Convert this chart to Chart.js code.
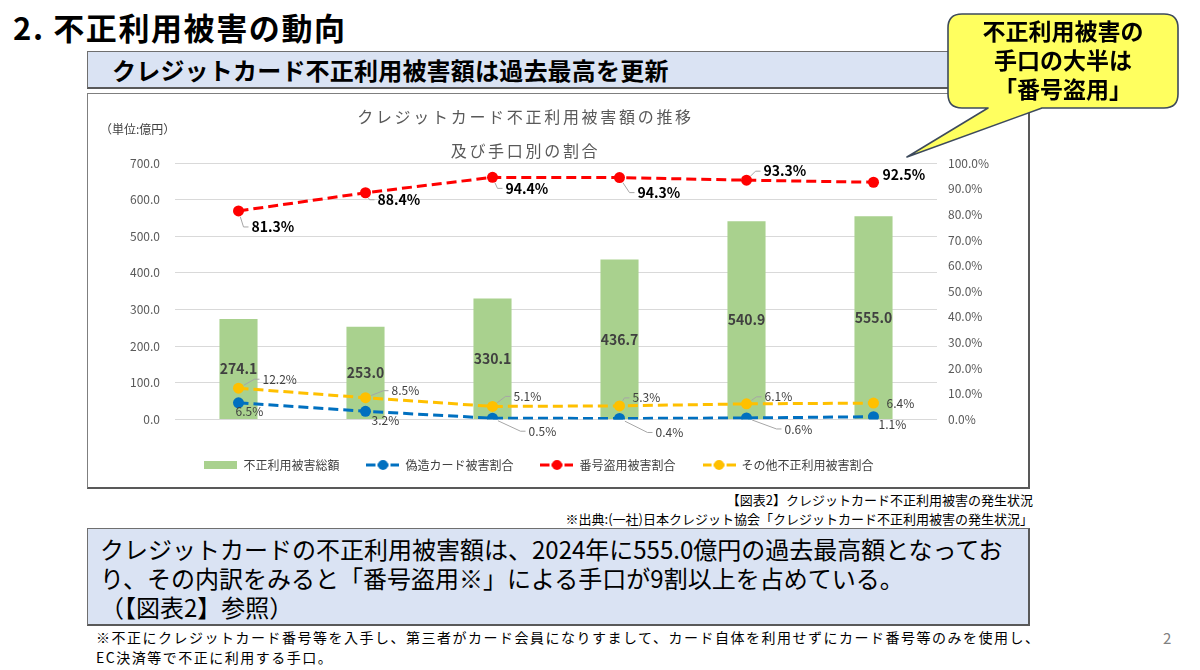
<!DOCTYPE html>
<html lang="ja">
<head>
<meta charset="utf-8">
<script src="https://cdn.jsdelivr.net/npm/chart.js@4.4.1/dist/chart.umd.min.js"></script>
<style>
  html,body{margin:0;padding:0;}
  body{width:1200px;height:670px;position:relative;overflow:hidden;background:#fff;
       font-family:"Noto Sans CJK JP","Noto Sans",sans-serif;color:#000;}
  .abs{position:absolute;}
  #pageTitle{left:13px;top:7px;font-size:31px;font-weight:700;line-height:40px;letter-spacing:1.6px;}
  #hdr{left:87px;top:51px;width:940px;height:35px;background:#dae3f3;border:1px solid #6f6f6f;border-bottom:2px solid #595959;border-right:2px solid #595959;}
  #hdr span{position:absolute;left:24px;top:0;line-height:36px;font-size:24px;font-weight:700;letter-spacing:0.2px;}
  #chartBox{left:87px;top:93px;width:940px;height:393px;border:1px solid #7f7f7f;border-bottom:2px solid #595959;border-right:2px solid #595959;background:#fff;}
  #c{position:absolute;left:1px;top:0px;}
  #ctitle{left:200px;top:5px;width:475px;text-align:center;font-size:16px;line-height:34px;color:#595959;letter-spacing:2.7px;}
  #unit{left:12px;top:26px;font-size:12px;color:#404040;}
  #cap{right:167px;top:490px;text-align:right;font-size:13px;line-height:19px;color:#000;}
  #bottomBox{left:87px;top:528px;width:940px;height:95px;background:#dae3f3;border:1px solid #6f6f6f;border-bottom:2px solid #595959;border-right:2px solid #595959;}
  #bottomBox div{position:absolute;left:12px;top:5px;font-size:24px;line-height:29px;white-space:nowrap;}
  #foot{left:96px;top:627px;font-size:14px;line-height:20px;letter-spacing:1.5px;white-space:nowrap;}
  #pnum{left:1163px;top:627px;font-size:15px;color:#808080;}
  #callout{left:0;top:0;}
  #callText{left:948px;top:16px;width:230px;text-align:center;font-size:23px;font-weight:700;line-height:29px;}
</style>
</head>
<body>
<div id="pageTitle" class="abs">2. 不正利用被害の動向</div>
<div id="hdr" class="abs"><span>クレジットカード不正利用被害額は過去最高を更新</span></div>
<div id="chartBox" class="abs">
  <canvas id="c" width="939" height="392"></canvas>
  <div id="ctitle" class="abs">クレジットカード不正利用被害額の推移<br>及び手口別の割合</div>
  <div id="unit" class="abs">（単位:億円）</div>
</div>
<svg id="callout" class="abs" width="1200" height="200">
  <path d="M962,14 H1164 Q1178,14 1178,28 V94 Q1178,108 1164,108 H1042 L907,157 L988,108 H962 Q948,108 948,94 V28 Q948,14 962,14 Z"
        fill="#ffff5f" stroke="#3d4a5c" stroke-width="1.6" stroke-linejoin="round"/>
</svg>
<div id="callText" class="abs">不正利用被害の<br>手口の大半は<br>「番号盗用」</div>
<div id="cap" class="abs">【図表2】クレジットカード不正利用被害の発生状況<br>※出典:(一社)日本クレジット協会「クレジットカード不正利用被害の発生状況」</div>
<div id="bottomBox" class="abs"><div>クレジットカードの不正利用被害額は、2024年に555.0億円の過去最高額となってお<br>り、その内訳をみると「番号盗用※」による手口が9割以上を占めている。<br>（【図表2】参照）</div></div>
<div id="foot" class="abs">※不正にクレジットカード番号等を入手し、第三者がカード会員になりすまして、カード自体を利用せずにカード番号等のみを使用し、<br>EC決済等で不正に利用する手口。</div>
<div id="pnum" class="abs">2</div>

<script>
// ---- data ----
const categories = ['2019年', '2020年', '2021年', '2022年', '2023年', '2024年'];
const totalDamage = [274.1, 253.0, 330.1, 436.7, 540.9, 555.0];           // 不正利用被害総額 (億円)
const counterfeitShare = [6.5, 3.2, 0.5, 0.4, 0.6, 1.1];                  // 偽造カード被害割合 (%)
const numberTheftShare = [81.3, 88.4, 94.4, 94.3, 93.3, 92.5];            // 番号盗用被害割合 (%)
const otherShare = [12.2, 8.5, 5.1, 5.3, 6.1, 6.4];                       // その他不正利用被害割合 (%)
const leftTicks = [0, 100, 200, 300, 400, 500, 600, 700];
const rightTicks = [0, 10, 20, 30, 40, 50, 60, 70, 80, 90, 100];
const seriesNames = ['不正利用被害総額', '偽造カード被害割合', '番号盗用被害割合', 'その他不正利用被害割合'];

// ---- styles ----
const GREEN = '#a9d18e', BLUE = '#0070c0', RED = '#ff0000', YELLOW = '#ffc000';
const FONT = "'Noto Sans CJK JP', 'Noto Sans', sans-serif";
Chart.defaults.font.family = FONT;

// label placement (offset of text's left-middle from the point, leader line flag)
const labelPlacement = {
  1: [[-3, 9, 0], [6, 9, 0], [36, 13, 1], [36, 14, 1], [38, 11, 1], [5, 8, 0]],
  2: [[13, 16, 1], [12, 7, 1], [13, 11, 1], [18, 15, 1], [17, -9, 1], [9, -8, 0]],
  3: [[24, -9, 1], [26, -7, 1], [21, -10, 1], [13, -8, 1], [18, -7, 1], [13, 0, 0]]
};

function legendLine(color) {
  const cv = document.createElement('canvas');
  cv.width = 33; cv.height = 12;
  const g = cv.getContext('2d');
  g.strokeStyle = color; g.lineWidth = 3;
  g.beginPath(); g.moveTo(0, 6); g.lineTo(9, 6); g.stroke();
  g.beginPath(); g.moveTo(24, 6); g.lineTo(33, 6); g.stroke();
  g.beginPath(); g.moveTo(11, 6); g.lineTo(22, 6); g.stroke();
  g.fillStyle = color; g.beginPath(); g.arc(16.5, 6, 5, 0, Math.PI * 2); g.fill();
  return cv;
}
function legendBar(color) {
  const cv = document.createElement('canvas');
  cv.width = 33; cv.height = 12;
  const g = cv.getContext('2d');
  g.fillStyle = color; g.fillRect(0, 2, 33, 8);
  return cv;
}
const legendImgs = [legendBar(GREEN), legendLine(BLUE), legendLine(RED), legendLine(YELLOW)];

const labelPlugin = {
  id: 'valueLabels',
  afterDatasetsDraw(chart) {
    const ctx = chart.ctx;
    chart.data.datasets.forEach((ds, di) => {
      const meta = chart.getDatasetMeta(di);
      meta.data.forEach((el, i) => {
        const v = ds.data[i];
        ctx.save();
        ctx.textBaseline = 'middle';
        if (di === 0) {
          ctx.font = 'bold 14px ' + FONT;
          ctx.fillStyle = '#404040';
          ctx.textAlign = 'center';
          ctx.fillText(v.toFixed(1), el.x, (el.y + el.base) / 2);
        } else {
          const o = labelPlacement[di][i];
          const tx = el.x + o[0], ty = el.y + o[1];
          if (o[2]) {
            const ex = tx - 8, ey = ty;
            const dx = ex - el.x, dy = ey - el.y, d = Math.hypot(dx, dy) || 1;
            ctx.strokeStyle = '#a6a6a6';
            ctx.lineWidth = 1;
            ctx.beginPath();
            ctx.moveTo(el.x + dx / d * 6, el.y + dy / d * 6);
            ctx.lineTo(ex, ey);
            ctx.lineTo(tx - 3, ty);
            ctx.stroke();
          }
          if (di === 2) { ctx.font = 'bold 14px ' + FONT; ctx.fillStyle = '#000'; }
          else { ctx.font = '12px ' + FONT; ctx.fillStyle = '#404040'; }
          ctx.textAlign = 'left';
          ctx.fillText(v.toFixed(1) + '%', tx, ty);
        }
        ctx.restore();
      });
    });
  }
};

const lineDs = (label, data, color) => ({
  type: 'line', label, data, yAxisID: 'y1', order: 0,
  borderColor: color, backgroundColor: color, borderWidth: 3, borderDash: [10, 5],
  pointRadius: 5.5, pointBackgroundColor: color, pointBorderWidth: 0, tension: 0, fill: false
});

new Chart(document.getElementById('c'), {
  type: 'bar',
  data: {
    labels: categories,
    datasets: [
      { type: 'bar', label: seriesNames[0], data: totalDamage, yAxisID: 'y', order: 1,
        backgroundColor: GREEN, borderWidth: 0, categoryPercentage: 0.6, barPercentage: 0.5 },
      lineDs(seriesNames[1], counterfeitShare, BLUE),
      lineDs(seriesNames[2], numberTheftShare, RED),
      lineDs(seriesNames[3], otherShare, YELLOW)
    ]
  },
  options: {
    responsive: false,
    animation: false,
    layout: { padding: { left: 0, right: 39, top: 69, bottom: 5 } },
    scales: {
      x: {
        grid: { display: false, drawTicks: false },
        border: { display: false },
        ticks: { padding: 12, color: '#595959', font: { size: 12 } },
        afterFit(s) { s.height = 12.5; }
      },
      y: {
        position: 'left', min: 0, max: 700,
        afterBuildTicks(s) { s.ticks = leftTicks.map(v => ({ value: v })); },
        grid: { color: '#d9d9d9', drawTicks: false, lineWidth: 1 },
        border: { display: false },
        ticks: { padding: 15, color: '#595959', font: { size: 12 }, callback: v => Number(v).toFixed(1) },
        afterFit(s) { s.width = 86; }
      },
      y1: {
        position: 'right', min: 0, max: 100,
        afterBuildTicks(s) { s.ticks = rightTicks.map(v => ({ value: v })); },
        grid: { display: false, drawTicks: false },
        border: { display: false },
        ticks: { padding: 11, color: '#595959', font: { size: 12 }, callback: v => Number(v).toFixed(1) + '%' },
        afterFit(s) { s.width = 52; }
      }
    },
    plugins: {
      title: { display: false },
      tooltip: { enabled: false },
      legend: {
        position: 'bottom',
        labels: {
          usePointStyle: true, pointStyleWidth: 33, padding: 27,
          color: '#404040', font: { size: 12 },
          sort: (a, b) => a.datasetIndex - b.datasetIndex,
          generateLabels(chart) {
            const items = Chart.defaults.plugins.legend.labels.generateLabels(chart);
            items.forEach(it => { it.pointStyle = legendImgs[it.datasetIndex]; });
            return items;
          }
        }
      }
    }
  },
  plugins: [labelPlugin]
});
</script>
</body>
</html>
